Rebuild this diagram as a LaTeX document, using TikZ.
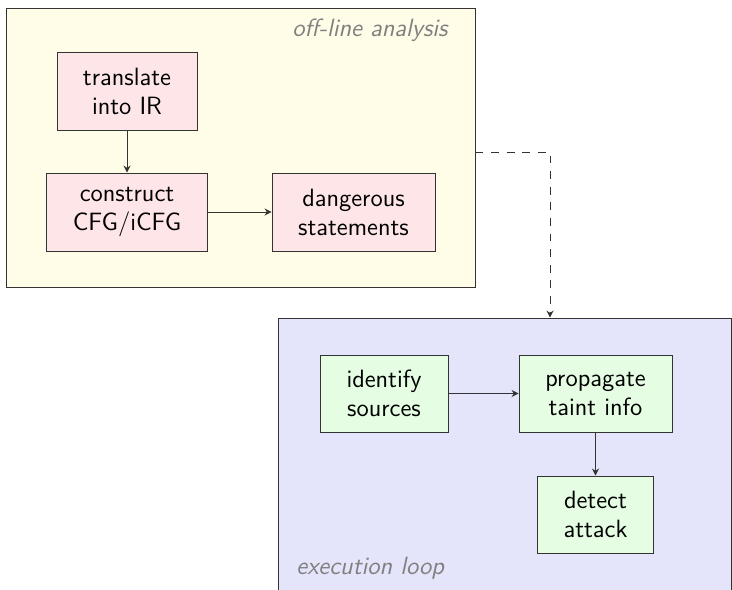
\documentclass[tikz,border=0pt]{standalone}
\usetikzlibrary{arrows.meta}
\definecolor{frame}{HTML}{333333}
\definecolor{yellowbg}{HTML}{FFFCE8}
\definecolor{bluebg}{HTML}{E4E4FA}
\definecolor{pinkbg}{HTML}{FDE5E8}
\definecolor{greenbg}{HTML}{E4FDE3}
\tikzset{
  container/.style={draw=frame, rectangle, inner sep=0pt, line width=0.5pt},
  stepbox/.style={draw=frame, rectangle, inner sep=0pt, align=center, line width=0.5pt,
    font=\sffamily\fontsize{12.5}{14.5}\selectfont, text=black},
  pinkbox/.style={stepbox, fill=pinkbg},
  greenbox/.style={stepbox, fill=greenbg},
  flow/.style={draw=frame, line width=0.5pt, -{Stealth[length=3.5pt,width=3.6pt,inset=1.2pt]}},
  longdash/.style={dash pattern=on 3.9pt off 3.9pt},
  tag/.style={font=\sffamily\itshape\fontsize{12.5}{14.5}\selectfont, text=gray, inner sep=0pt}
}
\begin{document}
\begin{tikzpicture}[x=0.5pt,y=-0.5pt]
\useasboundingbox (0,0) rectangle (732,589);
% containers
\node (offline) [container, fill=yellowbg, minimum width=234.5pt, minimum height=139.5pt] at (240.5,147.5) {};
\node (loop) [container, fill=bluebg, minimum width=226.5pt, minimum height=150pt] at (504.5,468) {};
\node (offtag) [tag, anchor=east] at (448,30) {off-line analysis};
\node (looptag) [tag, anchor=west] at (296,568) {execution loop};
% steps
\node (translate) [pinkbox, minimum width=70pt, minimum height=39pt] at (127,91) {translate\\into IR};
\node (construct) [pinkbox, minimum width=80.5pt, minimum height=39pt] at (127,212) {construct\\CFG/iCFG};
\node (danger) [pinkbox, minimum width=81.5pt, minimum height=39pt] at (353.5,212) {dangerous\\statements};
\node (identify) [greenbox, minimum width=64pt, minimum height=38.5pt] at (384,393.5) {identify\\sources};
\node (propagate) [greenbox, minimum width=76.5pt, minimum height=38.5pt] at (595.5,393.5) {propagate\\taint info};
\node (detect) [greenbox, minimum width=58pt, minimum height=38.5pt] at (595.5,514.5) {detect\\attack};
% connectors
\draw[flow] (translate) -- (construct);
\draw[flow] (construct) -- (danger);
\draw[flow] (identify) -- (propagate);
\draw[flow] (propagate) -- (detect);
\coordinate (bend) at (550,152);
\draw[flow, longdash] (offline.east |- bend) -- (bend) -- (loop.north -| bend);
\end{tikzpicture}
\end{document}
